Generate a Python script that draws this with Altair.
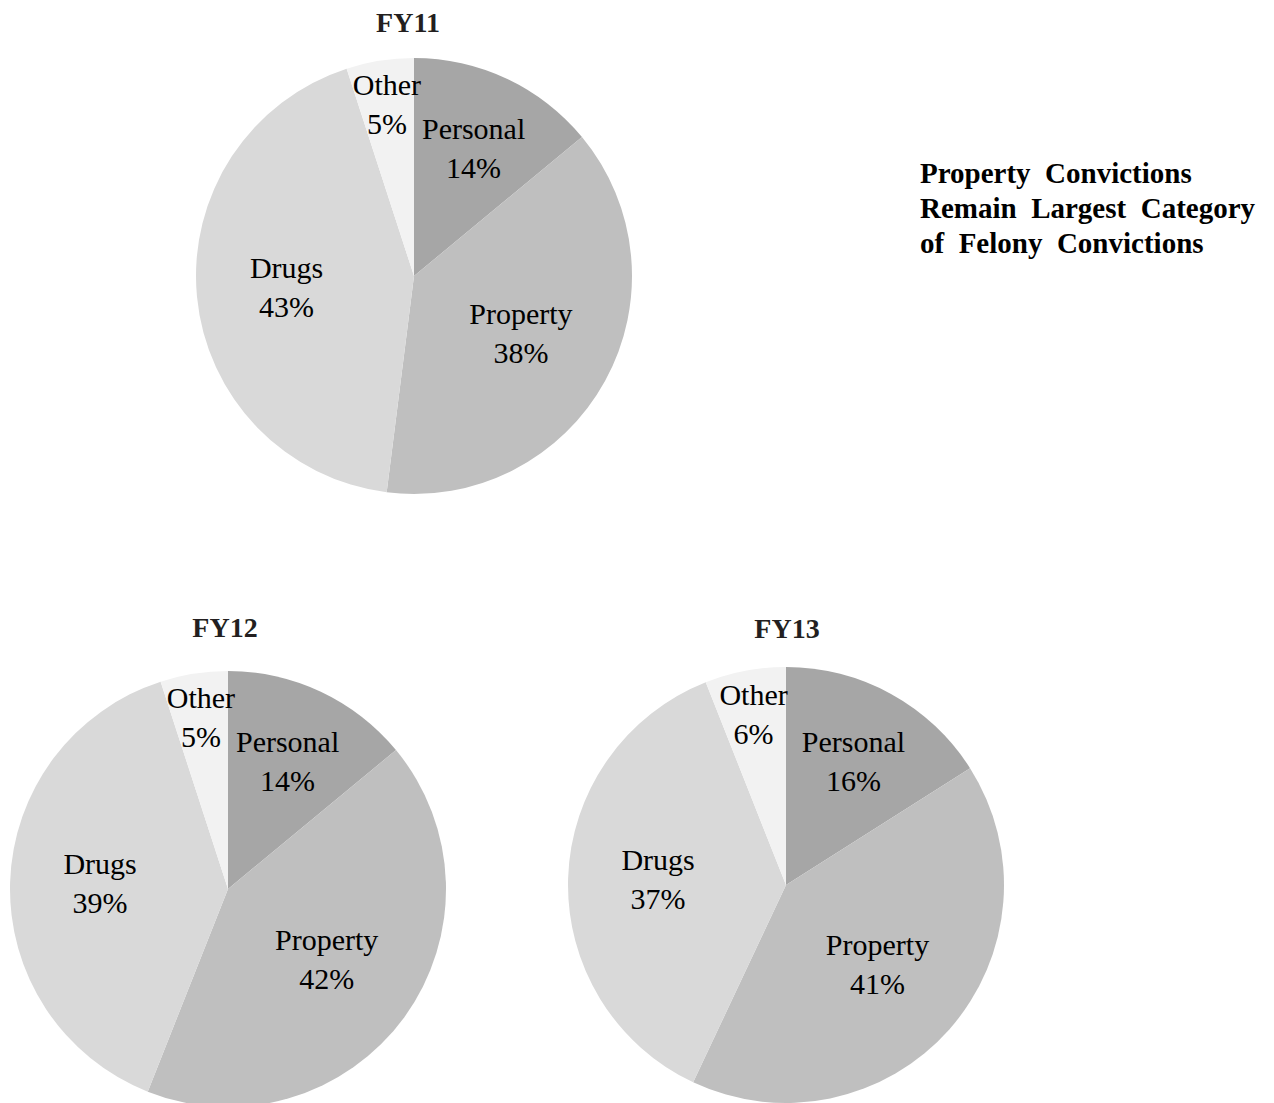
import altair as alt
import pandas as pd

# Felony conviction shares by offence type, per fiscal year
categories = ["Personal", "Property", "Drugs", "Other"]
years = ["FY11", "FY12", "FY13"]
fy11 = [14, 38, 43, 5]
fy12 = [14, 42, 39, 5]
fy13 = [16, 41, 37, 6]
shares = {"FY11": fy11, "FY12": fy12, "FY13": fy13}

note_lines = [
    "Property\u2002Convictions",
    "Remain\u2002Largest\u2002Category",
    "of\u2002Felony\u2002Convictions",
]

# styling / layout
shades = ["#a6a6a6", "#bfbfbf", "#d9d9d9", "#f2f2f2"]
SERIF = "Liberation Serif"
W, H = 1274, 1103
R = 218
centres = {"FY11": (414, 276), "FY12": (228, 889), "FY13": (786, 885)}
title_at = {"FY11": (408, 32), "FY12": (225, 637), "FY13": (787, 638)}
# distance of each slice label from the pie centre
label_radius = {"Personal": 140, "Property": 122, "Drugs": 128, "Other": 173}
LABEL_SIZE = 30
LABEL_LH = 39

theta_scale = alt.Scale(domain=[0, 100])
color_scale = alt.Scale(domain=categories, range=shades)

rad_expr = " : ".join(
    f"datum.category == '{k}' ? {v}" for k, v in label_radius.items()
) + " : 130"


def pie(year):
    df = pd.DataFrame(
        {"category": categories, "share": shares[year], "rank": list(range(len(categories)))}
    )
    cx, cy = centres[year]
    slices = alt.Chart(df).mark_arc(outerRadius=R, stroke=None).encode(
        theta=alt.Theta("share:Q", stack=True, scale=theta_scale),
        order=alt.Order("rank:Q"),
        color=alt.Color("category:N", scale=color_scale, legend=None),
        x=alt.value(cx),
        y=alt.value(cy),
    )
    labels = alt.Chart(df).transform_window(
        cum="sum(share)", sort=[alt.SortField("rank")], frame=[None, 0]
    ).transform_calculate(
        mid="datum.cum - datum.share / 2",
        label="datum.category + '\\n' + datum.share + '%'",
        rad=rad_expr,
    ).mark_text(
        font=SERIF, fontSize=LABEL_SIZE, lineBreak="\n", lineHeight=LABEL_LH,
        color="#000000", align="center", baseline="middle", dy=-LABEL_LH / 2,
    ).encode(
        theta=alt.Theta("mid:Q", stack=None, scale=theta_scale),
        radius=alt.Radius("rad:Q", scale=None),
        text="label:N",
        x=alt.value(cx),
        y=alt.value(cy),
    )
    tx, ty = title_at[year]
    title = alt.Chart(pd.DataFrame({"year": [year]})).mark_text(
        font=SERIF, fontSize=28, fontWeight="bold", color="#231f20",
        align="center", baseline="alphabetic",
    ).encode(text="year:N", x=alt.value(tx), y=alt.value(ty))
    return [slices, labels, title]


layers = []
for yr in years:
    layers += pie(yr)

note = alt.Chart(pd.DataFrame({"note": ["\n".join(note_lines)]})).mark_text(
    font=SERIF, fontSize=29, fontWeight="bold", color="#000000",
    align="left", baseline="alphabetic", lineBreak="\n", lineHeight=35,
).encode(text="note:N", x=alt.value(920), y=alt.value(183))
layers.append(note)

chart = alt.layer(*layers).properties(
    width=W, height=H, padding=0, autosize="none", background="white"
).configure_view(stroke=None)

chart.save("out.html", embed_options={"renderer": "svg", "actions": False})
